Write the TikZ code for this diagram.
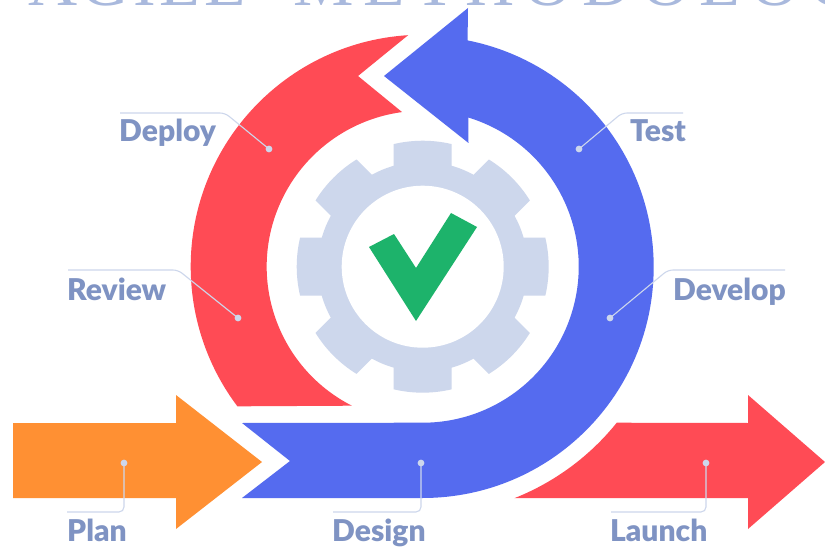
\documentclass[tikz,border=0pt]{standalone}
\usepackage{fontspec}
\setmainfont{Lato}[BoldFont={Lato Black}]
\newfontfamily\titlefontA[LetterSpace=5]{Liberation Serif}
\newfontfamily\titlefontB[LetterSpace=14]{Liberation Serif}
\definecolor{ringblue}{HTML}{556BEF}
\definecolor{ringred}{HTML}{FF4B55}
\definecolor{planorange}{HTML}{FF9033}
\definecolor{checkgreen}{HTML}{1DB36B}
\definecolor{gearblue}{HTML}{CDD7EC}
\definecolor{labelblue}{HTML}{7F93C3}
\definecolor{titleblue}{HTML}{A9B9DD}
\tikzset{
  leader/.style={draw=gearblue,line width=1.1pt,rounded corners=5pt},
  pin/.style={fill=gearblue},
  lab/.style={text=labelblue,font=\fontsize{30}{30}\selectfont\bfseries,inner sep=0pt,anchor=base west},
  titletext/.style={text=titleblue,inner sep=0pt,anchor=base west},
}
\begin{document}
\begin{tikzpicture}[x=1pt,y=1pt]
\useasboundingbox (0,0) rectangle (825,550);
\fill[white] (0,0) rectangle (825,550);
\coordinate (C) at (422.7,283.3);
% title, cropped by the picture's top edge
\begin{scope}
\clip (0,0) rectangle (825,550);
\node[titletext,font=\titlefontA\fontsize{68}{68}\selectfont] (titleA) at (28,544) {AGILE};
\node[titletext,font=\titlefontB\fontsize{68}{68}\selectfont] (titleB) at (293,544) {METHODOLOGY};
\end{scope}
% gear
\fill[gearblue] (C) circle[radius=105];
\foreach \a in {0,45,...,315}{
  \begin{scope}[shift={(C)},rotate=\a]
    \fill[gearblue] (90,-29) -- (122.6,-29) arc[start angle=-13.3,end angle=13.3,radius=126] -- (90,29) -- cycle;
  \end{scope}
}
\fill[white] (C) circle[radius=81];
% check
\fill[checkgreen] (369,303) -- (394,316) -- (416,282) -- (451,337) -- (477,323) -- (416,229) -- cycle;
% red ring
\fill[ringred] ([shift={(93.6:232)}]C) arc[start angle=93.6,end angle=217,radius=232]
  -- ([shift={(243:156)}]C) arc[start angle=243,end angle=97.6,radius=156]
  -- (358,474) -- cycle;
% blue ring
\fill[ringblue] (242,52) -- (422.7,52) arc[start angle=-90,end angle=78.8,radius=231]
  -- (468,542) -- (384,474) -- (468.5,407) -- ([shift={(73:156)}]C)
  arc[start angle=73,end angle=-90,radius=156] -- (242,127) -- (290,89) -- cycle;
% plan arrow
\fill[planorange] (13,127) -- (176,127) -- (176,155) -- (262,88) -- (176,21) -- (176,52) -- (13,52) -- cycle;
% launch arrow
\fill[ringred] ([shift={(-68.4:249)}]C) arc[start angle=-68.4,end angle=-38.8,radius=249]
  -- (748,127) -- (748,155) -- (825,88) -- (748,21) -- (748,52) -- cycle;
% labels
\node[lab] (deploy) at (119,408) {Deploy};
\node[lab] (test) at (630,408) {Test};
\node[lab] (review) at (67,250) {Review};
\node[lab] (develop) at (673,250) {Develop};
\node[lab] (plan) at (67,9) {Plan};
\node[lab] (design) at (332,9) {Design};
\node[lab] (launch) at (610,9) {Launch};
% leaders
\foreach \n/\px/\py/\kx/\ky/\ex/\ey in {
  Deploy/269/401/225/437/120/437,
  Review/238/232/178/280/68/280,
  Test/579/401/622/437/683/437,
  Develop/610/232/668/280/785/280,
  Plan/124/87/124/38/67/38,
  Design/421/87/421/38/333/38,
  Launch/706/87/706/38/611/38}{
  \coordinate (pin\n) at (\px,\py);
  \coordinate (knee\n) at (\kx,\ky);
  \coordinate (end\n) at (\ex,\ey);
  \draw[leader] (pin\n) -- (knee\n) -- (end\n);
  \fill[pin] (pin\n) circle[radius=3.4];
}
\end{tikzpicture}
\end{document}
